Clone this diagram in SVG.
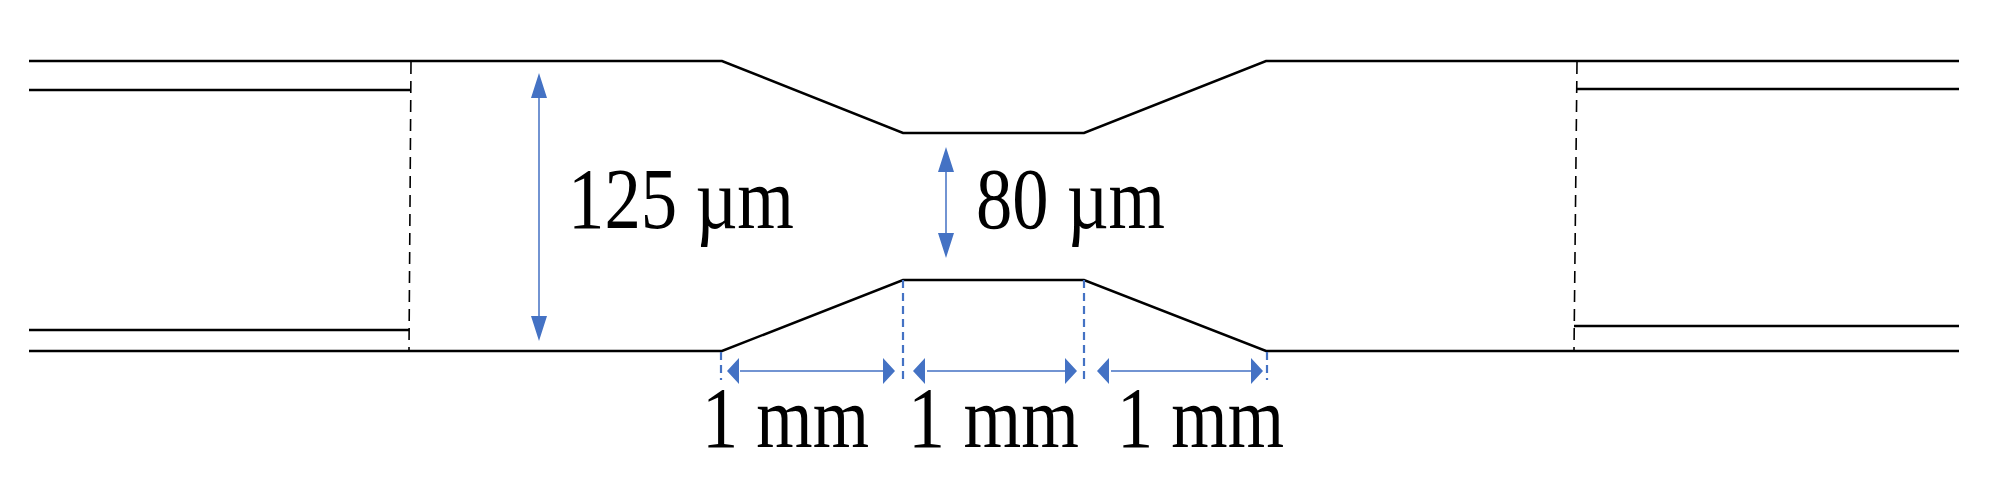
<svg xmlns="http://www.w3.org/2000/svg" width="2004" height="502" viewBox="0 0 2004 502">
<style>
.l{stroke:#000;stroke-width:2.5;fill:none}
.d{stroke:#000;stroke-width:1.6;stroke-dasharray:12 7;fill:none}
.b{stroke:#4472C4;stroke-width:1.5;fill:none}
.bd{stroke:#4472C4;stroke-width:2.2;stroke-dasharray:8 5;fill:none}
.a{fill:#4472C4}
text{font-family:"Liberation Serif",serif;font-size:86px;fill:#000}
</style>
<rect width="2004" height="502" fill="#fff"/>
<g id="fiber">
<path class="l" d="M29 61H722L903 133H1084L1266 61H1959"/>
<path class="l" d="M29 351H722L903 280H1084L1266 351H1959"/>
<path class="l" d="M29 90H411M29 330H409M1577 89H1959M1574 326H1959"/>
<path class="d" d="M411 62L409 350M1577 62L1574 350"/>
</g>
<g id="connectors">
<path class="b" d="M539 88V326M946 162V243M740 371H884M927 371H1067M1111 371H1251"/>
<path class="a" d="M539 73l-8 25h16zM539 341l-8-25h16zM946 147l-8 25h16zM946 258l-8-25h16zM727 371l12-13v26zM895 371l-12-13v26zM913 371l12-13v26zM1077 371l-12-13v26zM1097 371l12-13v26zM1263 371l-12-13v26z"/>
<path class="bd" d="M721 352V380M903 280V380M1084 280V380M1267 352V380"/>
</g>
<g id="labels">
<text x="568" y="228" textLength="226" lengthAdjust="spacingAndGlyphs">125 µm</text>
<text x="976" y="228" textLength="189" lengthAdjust="spacingAndGlyphs">80 µm</text>
<text x="702" y="447" textLength="167" lengthAdjust="spacingAndGlyphs">1 mm</text>
<text x="908" y="447" textLength="171" lengthAdjust="spacingAndGlyphs">1 mm</text>
<text x="1117" y="447" textLength="167" lengthAdjust="spacingAndGlyphs">1 mm</text>
</g>
</svg>
